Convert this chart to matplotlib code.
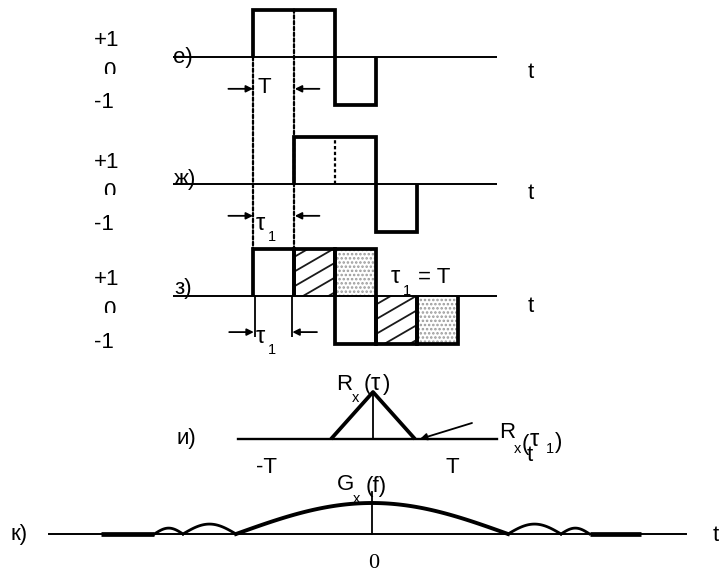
import matplotlib
matplotlib.use("Agg")
import numpy as np
import matplotlib.pyplot as plt
from matplotlib.patches import Rectangle, ConnectionPatch
from matplotlib.transforms import Bbox

plt.rcParams['font.family'] = ['Liberation Sans', 'DejaVu Sans']
plt.rcParams['hatch.linewidth'] = 1.2

# ---------------- data ----------------
# е) and ж): chip boundaries (units of chip duration T) and +1/-1 levels
e_edges = [0, 1, 2, 3]
e_levels = [1, 1, -1]
zh_edges = [1, 2, 3, 4]
zh_levels = [1, 1, -1]
zh_mid = [2]                      # dashed chip boundary inside ж)
# з): superposed chips: start time, level, fill style
z_starts = [0, 1, 2, 2, 3, 4]
z_levels = [1, 1, 1, -1, -1, -1]
z_fills = ['', 'hatch', 'dots', '', 'hatch', 'dots']
# и): autocorrelation R_x(τ)
r_tau = [-1, 0, 1]
r_val = [0, 1, 0]
# к): spectrum G_x(f): lobes (start, end, height) in units of first zero
g_lobes = [(-1.6, -1.39, 0.19), (-1.39, -1.0, 0.32), (-1.0, 1.0, 1.0),
           (1.0, 1.39, 0.32), (1.39, 1.6, 0.19)]
g_flat = [(-1.99, -1.6), (1.6, 1.98)]

# ---------------- figure ----------------
W, H, DPI = 719, 573, 100
fig = plt.figure(figsize=(W / DPI, H / DPI), dpi=DPI, facecolor='white')


def panel(x0, y0, sx, sy):
    """Axes over the whole figure: data (0,0) at pixel (x0,y0) from top-left."""
    ax = fig.add_axes([0, 0, 1, 1])
    ax.set_xlim(-x0 / sx, (W - x0) / sx)
    ax.set_ylim(-(H - y0) / sy, y0 / sy)
    ax.axis('off')
    ax.patch.set_alpha(0)
    return ax


K = 'black'
LW_SIG = 2.7
LW_BASE = 1.4

ax_e = panel(253, 57, 41, 47.5)
ax_zh = panel(253, 184, 41, 47.5)
ax_z = panel(253, 296, 41, 47.5)
ax_r = panel(373, 439, 42, 47)
ax_g = panel(372, 534, 136, 31)

axp = fig.add_axes([0, 0, 1, 1])
axp.set_xlim(0, W)
axp.set_ylim(H, 0)
axp.axis('off')
axp.patch.set_alpha(0)

# baselines
for ax in (ax_e, ax_zh):
    ax.plot([-1.95, 5.95], [0, 0], color=K, lw=LW_BASE, solid_capstyle='butt')
ax_r.plot([-3.21, 2.95], [0, 0], color=K, lw=LW_BASE + 0.3)
ax_g.plot([-2.375, 2.31], [0, 0], color=K, lw=LW_BASE)

# е), ж) waveforms
ax_e.stairs(e_levels, e_edges, baseline=0, color=K, lw=LW_SIG, joinstyle='miter')
ax_zh.stairs(zh_levels, zh_edges, baseline=0, color=K, lw=LW_SIG, joinstyle='miter')

dash = dict(color=K, lw=1.6, linestyle=(0, (1.5, 1.1)))
for m in zh_mid:
    ax_zh.plot([m, m], [0, 1], **dash)
for t in (e_edges[0], zh_edges[0]):
    top_a = 0 if t == e_edges[0] else 1
    cp = ConnectionPatch(xyA=(t, top_a), coordsA=ax_e.transData,
                         xyB=(t, 1), coordsB=ax_z.transData, **dash)
    fig.add_artist(cp)

# з) superposed chips
HATCH_SLOPE = 0.5      # amplitude units per chip
HATCH_STEP = 0.31      # vertical spacing of hatch lines
for s, lev, f in zip(z_starts, z_levels, z_fills):
    if f == 'hatch':
        clip = Rectangle((s, 0), 1, lev, transform=ax_z.transData, fill=False, lw=0)
        ax_z.add_patch(clip)
        lo, hi = min(0, lev), max(0, lev)
        for c in np.arange(lo - HATCH_SLOPE + 0.08, hi + HATCH_STEP, HATCH_STEP):
            ln, = ax_z.plot([s, s + 1], [c, c + HATCH_SLOPE], color='#1a1a1a', lw=1.3)
            ln.set_clip_path(clip)
    elif f == 'dots':
        ax_z.add_patch(Rectangle((s, 0), 1, lev, facecolor='none', edgecolor='#9a9a9a',
                                 hatch='....', lw=0))
for s, lev in zip(z_starts, z_levels):
    ax_z.plot([s, s, s + 1, s + 1], [0, lev, lev, 0], color=K, lw=LW_SIG,
              solid_joinstyle='miter', solid_capstyle='butt')
ax_z.plot([-1.95, 5.95], [0, 0], color=K, lw=LW_BASE, solid_capstyle='butt')


# duration arrows
def span_arrows(ax, y, a, b, L=0.6):
    ap = dict(arrowstyle='-|>', color=K, lw=1.3, mutation_scale=10, shrinkA=0, shrinkB=0)
    ax.annotate('', xy=(a, y), xytext=(a - L, y), arrowprops=ap, annotation_clip=False)
    ax.annotate('', xy=(b, y), xytext=(b + L, y), arrowprops=ap, annotation_clip=False)


span_arrows(ax_e, -0.67, 0, 1.02)
span_arrows(ax_zh, -0.67, 0, 1.02)
span_arrows(ax_z, -0.76, 0.02, 0.96)
ax_z.vlines([0.05, 0.95], 0, -0.86, color=K, lw=1.3)

# и) autocorrelation
ax_r.plot(r_tau, r_val, color=K, lw=LW_SIG, solid_capstyle='butt')
ax_r.plot([0, 0], [0, max(r_val)], color=K, lw=1.3)
axp.annotate('', xy=(420, 439), xytext=(472, 423),
             arrowprops=dict(arrowstyle='-|>', color=K, lw=1.3, mutation_scale=10,
                             shrinkA=0, shrinkB=0))

# к) spectrum
for a, b, h in g_lobes:
    x = np.linspace(a, b, 120)
    ax_g.plot(x, h * np.sin(np.pi * (x - a) / (b - a)), color=K,
              lw=2.8 if h >= 1 else 2.0)
for a, b in g_flat:
    ax_g.plot([a, b], [0, 0], color=K, lw=3.4, solid_capstyle='butt')
ax_g.plot([0, 0], [0, 1.35], color=K, lw=1.3)


# ---------------- text ----------------
FS = 16
SUB = 10.5
TAU = 17


def txt(x, y, s, size=FS, ha='left', **kw):
    return axp.text(x, y, s, fontsize=size, ha=ha, va='baseline', **kw)


def zero(x, base, cut):
    t = txt(x, base, '0', ha='center')
    p0 = axp.transData.transform((x - 15, cut))
    p1 = axp.transData.transform((x + 15, base - 30))
    t.set_clip_box(Bbox.from_extents(min(p0[0], p1[0]), min(p0[1], p1[1]),
                                     max(p0[0], p1[0]), max(p0[1], p1[1])))
    t.set_clip_on(True)


for top, zb, bot in ((46, 77, 108.5), (168, 198, 230), (285, 316, 348)):
    txt(94, top, '+1')
    zero(109, zb, zb - 3.5)
    txt(94, bot, '-1')

txt(173, 63, 'е)')
txt(174, 185, 'ж)')
txt(174, 294, 'з)')
txt(176, 444, 'и)')
txt(11, 540, 'к)')

for yb in (78, 199, 312):
    txt(531, yb, 't', ha='center')
txt(713, 541, 't')

# е) T label
txt(257, 93, 'T')
# ж) τ1
txt(256, 230, 'τ', size=TAU)
txt(268, 241, '1', size=SUB)
# з) τ1 below and τ1 = T
txt(256, 343, 'τ', size=TAU)
txt(268, 354, '1', size=SUB)
txt(391, 283, 'τ', size=TAU)
txt(403, 295, '1', size=SUB)
txt(418, 283, '= T')

# и) labels
txt(336, 390, 'R')
txt(352, 402, 'x', size=SUB)
txt(364, 390, '(', )
txt(371, 390, 'τ', size=TAU)
txt(383, 390, ')')
txt(256, 473, '-T')
txt(445, 473, 'T')
txt(499, 438, 'R')
txt(514, 453, 'x', size=SUB)
txt(522, 450, '(')
txt(530, 446, 'τ', size=TAU)
txt(546, 453, '1', size=SUB)
txt(555, 448, ')')
txt(527, 461, 't')

# к) labels
txt(337, 490, 'G')
txt(353, 503, 'x', size=SUB)
txt(366, 492, '(f)')
axp.text(374, 568, '0', fontsize=16, ha='center', va='baseline', family='Liberation Serif')

fig.savefig('out.png', dpi=DPI, facecolor='white')
